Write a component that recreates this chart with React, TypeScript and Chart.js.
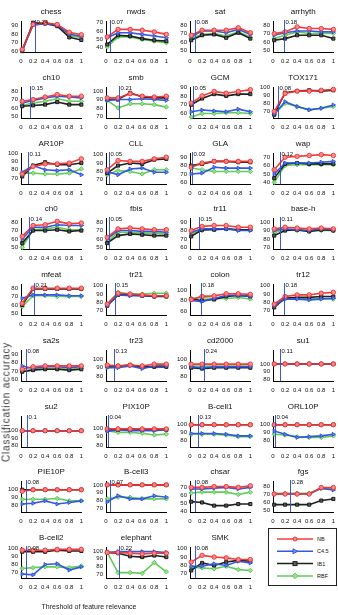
import React, { useEffect, useRef } from 'react';
import { Chart, registerables } from 'chart.js';

Chart.register(...registerables);

const titles = [
  'chess', 'nwds', 'sat', 'arrhyth',
  'ch10', 'smb', 'GCM', 'TOX171',
  'AR10P', 'CLL', 'GLA', 'wap',
  'ch0', 'fbis', 'tr11', 'base-h',
  'mfeat', 'tr21', 'colon', 'tr12',
  'sa2s', 'tr23', 'cd2000', 'su1',
  'su2', 'PIX10P', 'B-cell1', 'ORL10P',
  'PIE10P', 'B-cell3', 'chsar', 'fgs',
  'B-cell2', 'elephant', 'SMK',
];

const thresholds = [
  0.24, 0.07, 0.08, 0.18,
  0.15, 0.21, 0.05, 0.08,
  0.11, 0.05, 0.03, 0.12,
  0.14, 0.05, 0.15, 0.11,
  0.21, 0.15, 0.18, 0.18,
  0.08, 0.13, 0.24, 0.11,
  0.1, 0.04, 0.13, 0.04,
  0.08, 0.07, 0.08, 0.28,
  0.08, 0.22, 0.08,
];

const xPoints = [0.02, 0.2, 0.4, 0.6, 0.8, 1];
const xTicks = [0, 0.2, 0.4, 0.6, 0.8, 1];

const yMin = [
  59, 35, 48, 48,
  48, 68, 55, 62,
  63, 65, 58, 38,
  48, 48, 58, 68,
  48, 65, 52, 65,
  58, 75, 75, 78,
  78, 78, 72, 72,
  72, 65, 39, 48,
  63, 65, 65,
];
const yMax = [
  95, 72, 85, 85,
  85, 105, 90, 100,
  100, 102, 95, 75,
  85, 85, 95, 105,
  85, 102, 112, 102,
  95, 110, 110, 118,
  120, 114, 111, 111,
  111, 105, 78, 86,
  102, 105, 102,
];

const T4a = [60, 70, 80, 90];
const T4b = [70, 80, 90, 100];
const T4c = [50, 60, 70, 80];
const T4d = [40, 50, 60, 70];
const T3 = [80, 90, 100];
const yTicks = [
  T4a, T4d, T4c, T4c,
  T4c, T4b, T4a, T4b,
  T4b, T4b, T4a, T4d,
  T4c, T4c, T4a, T4b,
  T4c, T4b, [60, 80, 100], T4b,
  T4a, T3, T3, T3,
  T3, T3, T3, T3,
  T3, T4b, T4d, T4c,
  T4b, T4b, T4b,
];

const seriesNames = ['NB', 'C4.5', 'IB1', 'RBF'];

// NB (red)
const nbAcc = [
  [62, 91, 93, 91, 82, 79], [53, 62, 62, 61, 59, 56], [68, 74, 74, 74, 77, 71], [70, 72, 78, 76, 76, 75],
  [68, 70, 73, 76, 74, 74], [92, 92, 97, 94, 93, 94], [72, 80, 85, 83, 85, 87], [70, 92, 95, 95, 96, 97],
  [75, 84, 87, 87, 88, 93], [82, 93, 92, 92, 95, 97], [78, 83, 85, 85, 85, 85], [55, 70, 71, 72, 73, 72],
  [63, 76, 77, 81, 78, 79], [62, 72, 73, 72, 71, 71], [80, 85, 86, 86, 84, 84], [92, 94, 93, 92, 93, 92],
  [62, 80, 80, 80, 80, 80], [78, 91, 90, 89, 88, 88], [82, 88, 89, 93, 93, 92], [78, 87, 89, 89, 91, 92],
  [72, 75, 76, 76, 76, 76], [93, 92, 93, 92, 94, 94], [94, 94, 94, 94, 94, 94], [100, 100, 100, 100, 100, 100],
  [100, 100, 100, 100, 100, 100], [99, 99, 99, 99, 99, 99], [100, 100, 100, 100, 100, 100], [100, 100, 100, 100, 100, 100],
  [98, 100, 100, 100, 100, 100], [100, 100, 100, 100, 100, 100], [70, 70, 71, 71, 70, 72], [70, 70, 70, 70, 78, 78],
  [98, 98, 98, 99, 99, 99], [98, 98, 97, 96, 97, 97], [84, 92, 90, 89, 87, 87],
];
// C4.5 (blue)
const c45Acc = [
  [61, 90, 92, 90, 80, 77], [52, 58, 58, 56, 54, 52], [66, 73, 73, 71, 75, 69], [68, 71, 73, 73, 72, 72],
  [66, 69, 72, 74, 73, 72], [89, 90, 90, 91, 90, 89], [62, 64, 63, 62, 65, 62], [67, 82, 76, 72, 74, 78],
  [77, 85, 80, 79, 80, 74], [80, 76, 83, 84, 79, 79], [70, 71, 78, 77, 77, 77], [50, 63, 63, 63, 64, 65],
  [60, 74, 74, 77, 76, 76], [60, 70, 70, 69, 69, 68], [78, 82, 82, 82, 80, 80], [90, 92, 91, 90, 92, 91],
  [68, 72, 72, 72, 71, 71], [76, 89, 88, 88, 88, 88], [80, 78, 84, 90, 90, 88], [76, 84, 84, 83, 84, 85],
  [76, 73, 75, 75, 74, 75], [90, 90, 92, 89, 92, 92], [91, 90, 91, 91, 91, 91], [100, 100, 100, 100, 100, 100],
  [100, 100, 100, 100, 100, 100], [96, 98, 97, 97, 97, 98], [89, 89, 89, 88, 86, 86], [92, 88, 84, 85, 86, 88],
  [82, 83, 86, 82, 84, 86], [78, 86, 82, 82, 86, 84], [68, 68, 69, 70, 68, 70], [70, 70, 70, 70, 77, 75],
  [68, 67, 80, 81, 73, 77], [98, 99, 99, 99, 99, 98], [79, 79, 82, 80, 85, 83],
];
// IB1 (black)
const ib1Acc = [
  [60, 93, 92, 89, 76, 73], [44, 55, 54, 51, 49, 48], [62, 68, 69, 65, 71, 64], [62, 64, 68, 68, 68, 64],
  [62, 63, 64, 67, 64, 64], [90, 90, 98, 93, 92, 92], [70, 77, 82, 80, 82, 82], [66, 93, 95, 96, 95, 96],
  [72, 85, 89, 86, 86, 88], [78, 87, 90, 89, 94, 95], [80, 82, 85, 85, 84, 84], [45, 62, 63, 62, 62, 62],
  [55, 70, 70, 71, 69, 70], [55, 64, 66, 65, 64, 64], [73, 81, 81, 82, 81, 81], [84, 90, 91, 89, 91, 90],
  [60, 79, 79, 79, 79, 79], [76, 89, 89, 88, 87, 87], [83, 80, 82, 88, 90, 88], [74, 85, 86, 86, 87, 87],
  [69, 71, 72, 72, 71, 72], [92, 92, 93, 91, 91, 91], [90, 89, 90, 90, 90, 90], [100, 100, 100, 100, 100, 100],
  [100, 100, 100, 100, 100, 100], [98, 98, 98, 98, 98, 98], [100, 100, 100, 100, 100, 100], [100, 100, 100, 100, 100, 100],
  [100, 100, 100, 100, 100, 100], [100, 100, 100, 100, 100, 100], [52, 51, 47, 47, 49, 49], [57, 57, 57, 57, 62, 64],
  [96, 96, 96, 98, 97, 97], [98, 97, 93, 92, 94, 92], [74, 83, 80, 84, 86, 85],
];
// RBF (green)
const rbfAcc = [
  [61, 92, 93, 90, 78, 76], [41, 53, 53, 50, 48, 46], [64, 69, 70, 67, 72, 66], [64, 68, 72, 70, 70, 70],
  [63, 66, 68, 71, 68, 68], [89, 80, 85, 85, 84, 81], [56, 60, 60, 61, 61, 60], [66, 80, 76, 72, 74, 76],
  [76, 76, 75, 75, 76, 81], [76, 81, 80, 77, 82, 82], [77, 75, 73, 73, 73, 73], [40, 60, 61, 61, 61, 61],
  [50, 71, 72, 74, 71, 71], [56, 68, 68, 67, 67, 66], [76, 80, 82, 82, 81, 81], [88, 91, 90, 89, 90, 90],
  [58, 71, 71, 70, 70, 70], [78, 92, 90, 90, 91, 91], [84, 86, 84, 84, 86, 83], [78, 86, 85, 84, 85, 84],
  [70, 72, 73, 73, 72, 73], [91, 91, 93, 90, 92, 93], [92, 92, 92, 92, 92, 92], [100, 100, 100, 100, 100, 100],
  [100, 100, 100, 100, 100, 100], [97, 95, 95, 94, 92, 93], [88, 88, 88, 87, 85, 85], [88, 87, 85, 84, 84, 86],
  [88, 88, 88, 89, 86, 86], [82, 84, 84, 82, 82, 82], [63, 64, 64, 64, 61, 64], [71, 71, 71, 71, 77, 77],
  [75, 76, 77, 77, 76, 78], [98, 72, 72, 71, 85, 73], [78, 77, 76, 79, 75, 74],
];

const seriesColors = ['rgba(240,50,50,0.95)', 'rgba(40,80,220,0.95)', 'rgba(20,20,20,0.95)', 'rgba(90,200,80,0.95)'];
const seriesFill = ['rgba(250,140,140,0.9)', 'rgba(120,150,240,0.9)', 'rgba(90,90,90,0.9)', 'rgba(150,225,140,0.9)'];
const seriesMarkers = ['circle', 'triangle', 'rect', 'rectRot'];

const FONT = '"Liberation Sans", Arial, sans-serif';
const AXIS_X = [21, 106, 190, 273];
const PLOT_TOP0 = 21;
const ROW_PITCH = 65.75;
const PLOT_W = 62;
const PLOT_H = 31;
const LEFT_W = 22;
const TOP_H = 16;
const BOTTOM_H = 14;
const RIGHT_W = 6;

function Panel({ idx }: { idx: number }) {
  const ref = useRef<HTMLCanvasElement | null>(null);
  const row = Math.floor(idx / 4);
  const col = idx % 4;
  const left = AXIS_X[col] - LEFT_W;
  const top = Math.round(PLOT_TOP0 + row * ROW_PITCH) - TOP_H;
  const W = LEFT_W + PLOT_W + RIGHT_W;
  const H = TOP_H + PLOT_H + BOTTOM_H;

  useEffect(() => {
    if (!ref.current) return;
    const allSeries = [nbAcc[idx], c45Acc[idx], ib1Acc[idx], rbfAcc[idx]];
    const thr = thresholds[idx];
    const title = titles[idx];
    const decor = {
      id: 'decor' + idx,
      afterDatasetsDraw(chart: any) {
        const { ctx, chartArea, scales } = chart;
        const x = Math.round(scales.x.getPixelForValue(thr)) + 0.5;
        ctx.save();
        ctx.strokeStyle = 'rgba(50,80,210,0.95)';
        ctx.lineWidth = 1;
        ctx.beginPath();
        ctx.moveTo(x, chartArea.top - 1);
        ctx.lineTo(x, chartArea.bottom);
        ctx.stroke();
        ctx.fillStyle = '#111';
        ctx.font = '6px ' + FONT;
        ctx.textAlign = 'left';
        ctx.textBaseline = 'alphabetic';
        ctx.fillText(String(thr), x + 1, chartArea.top + 3);
        ctx.font = '8px ' + FONT;
        ctx.textAlign = 'center';
        ctx.textBaseline = 'middle';
        ctx.fillText(title, (chartArea.left + chartArea.right) / 2, chartArea.top - 9);
        ctx.restore();
      },
    };
    const chart = new Chart(ref.current, {
      type: 'line',
      data: {
        datasets: allSeries.map((vals, s) => ({
          label: seriesNames[s],
          data: vals.map((v, k) => ({ x: xPoints[k], y: v })),
          borderColor: seriesColors[s],
          backgroundColor: seriesFill[s],
          pointBackgroundColor: seriesFill[s],
          pointBorderColor: seriesColors[s],
          pointStyle: seriesMarkers[s] as any,
          pointRotation: s === 1 ? 90 : 0,
          pointRadius: 2.2,
          pointBorderWidth: 1,
          borderWidth: 1.6,
          tension: 0,
          clip: false as any,
        })),
      },
      options: {
        responsive: false,
        devicePixelRatio: 1,
        animation: false,
        events: [],
        layout: { padding: { top: TOP_H, right: RIGHT_W, left: 0, bottom: 0 } },
        plugins: { legend: { display: false }, tooltip: { enabled: false }, title: { display: false } },
        scales: {
          x: {
            type: 'linear',
            min: 0,
            max: 1,
            afterBuildTicks: (scale: any) => {
              scale.ticks = xTicks.map((v) => ({ value: v }));
            },
            afterFit: (scale: any) => {
              scale.height = BOTTOM_H;
            },
            ticks: {
              autoSkip: false,
              maxRotation: 0,
              padding: 6,
              color: '#111',
              font: { size: 6, family: FONT },
              callback: (v: any) => (v === 0 ? '0' : v === 1 ? '1' : Number(v).toFixed(1)),
            },
            grid: { display: false, drawTicks: false },
            border: { display: true, color: '#000', width: 1 },
          },
          y: {
            type: 'linear',
            min: yMin[idx],
            max: yMax[idx],
            afterBuildTicks: (scale: any) => {
              scale.ticks = yTicks[idx].map((v) => ({ value: v }));
            },
            afterFit: (scale: any) => {
              scale.width = LEFT_W;
            },
            ticks: {
              autoSkip: false,
              padding: 3,
              color: '#111',
              font: { size: 6, family: FONT },
            },
            grid: { display: false, drawTicks: false },
            border: { display: true, color: '#000', width: 1 },
          },
        },
      },
      plugins: [decor],
    } as any);
    return () => chart.destroy();
  }, [idx]);

  return (
    <canvas
      ref={ref}
      width={W}
      height={H}
      style={{ position: 'absolute', left, top, width: W, height: H }}
    />
  );
}

function Legend() {
  const rows = [0, 1, 2, 3];
  return (
    <div
      style={{
        position: 'absolute',
        left: 268,
        top: 528,
        width: 69,
        height: 58,
        border: '1px solid #222',
        boxSizing: 'border-box',
        background: '#fff',
      }}
    >
      <svg width={67} height={56} style={{ position: 'absolute', left: 0, top: 0 }}>
        {rows.map((s) => {
          const y = 10 + s * 12.3;
          const c = seriesColors[s];
          const f = seriesFill[s];
          const cx = 26;
          return (
            <g key={s}>
              <line x1={8} y1={y} x2={44} y2={y} stroke={c} strokeWidth={1.5} />
              {s === 0 && <circle cx={cx} cy={y} r={2} fill={f} stroke={c} />}
              {s === 1 && <polygon points={`${cx - 2},${y - 2.5} ${cx + 2.5},${y} ${cx - 2},${y + 2.5}`} fill={f} stroke={c} />}
              {s === 2 && <rect x={cx - 2} y={y - 2} width={4} height={4} fill={f} stroke={c} />}
              {s === 3 && <polygon points={`${cx},${y - 2.8} ${cx + 2.8},${y} ${cx},${y + 2.8} ${cx - 2.8},${y}`} fill={f} stroke={c} />}
              <text x={48} y={y + 2} fontSize={5.5} fontFamily={FONT} fill="#111">
                {seriesNames[s]}
              </text>
            </g>
          );
        })}
      </svg>
    </div>
  );
}

export default function App() {
  return (
    <div
      style={{
        position: 'fixed',
        left: 0,
        top: 0,
        width: 338,
        height: 615,
        background: '#fff',
        overflow: 'hidden',
        fontFamily: FONT,
      }}
    >
      {titles.map((_, i) => (
        <Panel key={i} idx={i} />
      ))}
      <Legend />
      <div
        style={{
          position: 'absolute',
          left: 6,
          top: 402,
          transform: 'translate(-50%, -50%) rotate(-90deg)',
          whiteSpace: 'nowrap',
          fontSize: 10,
          letterSpacing: 0.8,
          color: '#333',
        }}
      >
        Classification accuracy
      </div>
      <div
        style={{
          position: 'absolute',
          left: 89,
          top: 606,
          transform: 'translate(-50%, -50%)',
          whiteSpace: 'nowrap',
          fontSize: 7,
          color: '#222',
        }}
      >
        Threshold of feature relevance
      </div>
    </div>
  );
}
